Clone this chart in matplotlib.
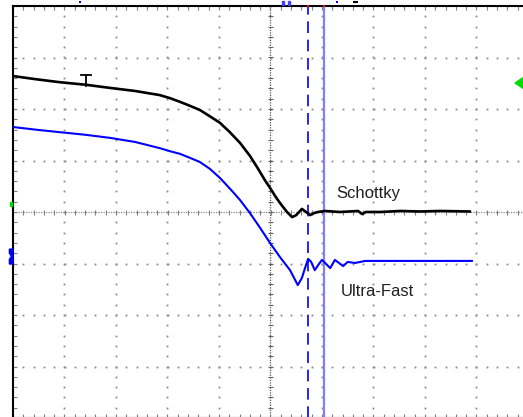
import matplotlib.pyplot as plt
import numpy as np

# screen is 10 x 8 divisions, values below are in divisions
schottky_t = [-5.0, -4.57, -4.09, -3.58, -3.12, -2.63, -2.15, -1.95, -1.76, -1.56,
              -1.37, -1.18, -0.98, -0.79, -0.59, -0.40, -0.26, -0.11, -0.01, 0.09,
              0.18, 0.32, 0.42, 0.50, 0.61, 0.69, 0.77, 0.85, 0.92, 1.06,
              1.35, 1.70, 1.78, 1.85, 2.13, 2.52, 2.90, 3.29, 3.87]
schottky_v = [2.64, 2.58, 2.52, 2.47, 2.41, 2.35, 2.27, 2.21, 2.14, 2.06,
              1.98, 1.86, 1.73, 1.55, 1.34, 1.09, 0.87, 0.62, 0.47, 0.31,
              0.18, 0.0, -0.10, -0.06, 0.06, 0.0, -0.06, -0.02, 0.0, 0.02,
              0.0, 0.02, -0.04, 0.0, 0.0, 0.02, 0.01, 0.02, 0.01]

ultrafast_t = [-5.0, -4.48, -4.09, -3.60, -3.12, -2.63, -2.15, -1.95, -1.76, -1.56,
               -1.37, -1.18, -0.98, -0.73, -0.59, -0.40, -0.20, -0.01, 0.18, 0.38,
               0.53, 0.61, 0.67, 0.73, 0.79, 0.86, 0.94, 1.00, 1.08, 1.16,
               1.25, 1.33, 1.41, 1.50, 1.64, 1.84, 3.91]
ultrafast_v = [1.65, 1.59, 1.55, 1.50, 1.44, 1.36, 1.24, 1.18, 1.13, 1.05,
               0.97, 0.84, 0.66, 0.39, 0.23, -0.02, -0.31, -0.60, -0.87, -1.13,
               -1.42, -1.28, -1.09, -0.91, -0.97, -1.13, -1.01, -0.93, -1.01, -1.09,
               -0.93, -0.99, -1.05, -0.97, -0.99, -0.95, -0.95]

cursor_a = 0.73
cursor_b = 1.03
trig_t, trig_v = -3.58, 2.45

fig = plt.figure(figsize=(5.23, 4.17), dpi=100)
ax = fig.add_axes([13 / 523, -1 / 417, 515 / 523, 412 / 417])
ax.set_xlim(-5, 5)
ax.set_ylim(-4, 4)
for s in ax.spines.values():
    s.set_color("black")
    s.set_linewidth(1.5)

ax.set_xticks(np.arange(-5, 5.01, 1))
ax.set_yticks(np.arange(-4, 4.01, 1))
ax.set_xticks(np.arange(-5, 5.01, 0.2), minor=True)
ax.set_yticks(np.arange(-4, 4.01, 0.2), minor=True)
ax.tick_params(which="both", direction="in", length=3, width=0.8, color="#808080",
               top=True, right=True, labelbottom=False, labelleft=False)

# dotted graticule
minor_x = np.arange(-5, 5.01, 0.2)
minor_y = np.arange(-4, 4.01, 0.2)
for gx in range(-4, 5):
    if gx == 0:
        continue
    ax.plot(np.full_like(minor_y, gx), minor_y, ls="none", marker="s",
            ms=1.3, mew=0, color="#8a8a8a", zorder=1)
for gy in range(-3, 4):
    if gy == 0:
        continue
    ax.plot(minor_x, np.full_like(minor_x, gy), ls="none", marker="s",
            ms=1.3, mew=0, color="#8a8a8a", zorder=1)

# centre axes with tick marks
ax.axhline(0, color="#8a8a8a", lw=0.9, ls=(0, (1, 1)), zorder=1)
ax.axvline(0, color="#555555", lw=0.9, ls=(0, (1, 1)), zorder=1)
ax.plot(minor_x, np.zeros_like(minor_x), ls="none", marker="|", ms=3.6,
        mew=0.8, color="#808080", zorder=1)
ax.plot(np.zeros_like(minor_y), minor_y, ls="none", marker="_", ms=3.6,
        mew=0.8, color="#606060", zorder=1)

# cursors
ax.axvline(cursor_a, color="#0000ff", lw=1.2, ls=(0, (7, 4)), zorder=3)
ax.axvline(cursor_b, color="#8080ff", lw=1.6, zorder=3)
ax.plot([cursor_a, cursor_b], [4, 4], ls="none", marker="s", ms=1.8, mew=0,
        color="red", clip_on=False, zorder=5)

# traces
ax.plot(ultrafast_t, ultrafast_v, color="#0000ff", lw=1.5, zorder=4)
ax.plot(schottky_t, schottky_v, color="black", lw=1.9, zorder=4)

# trigger marker
ax.plot([trig_t, trig_t], [trig_v, 2.66], color="black", lw=1.3, zorder=4)
ax.plot([trig_t - 0.1, trig_t + 0.1], [2.66, 2.66], color="black", lw=1.3, zorder=4)

ax.text(1.27, 0.27, "Schottky", fontsize=12, family="Liberation Sans",
        color="#202020", va="baseline", ha="left")
ax.text(1.37, -1.63, "Ultra-Fast", fontsize=12, family="Liberation Sans",
        color="#202020", va="baseline", ha="left")

# channel / trigger level markers on the edges
ax.fill([4.75, 4.92, 4.92], [2.505, 2.62, 2.39], color="#00dd00",
        clip_on=False, zorder=6)
ax.fill([-5.05, -5.01, -5.01, -5.05], [0.12, 0.12, 0.19, 0.19],
        color="#00dd00", clip_on=False, zorder=6)
ax.fill([-5.07, -5.0, -5.0, -5.07, -5.07, -5.03, -5.07],
        [-0.72, -0.72, -1.01, -1.01, -0.92, -0.86, -0.80],
        color="#0000ff", clip_on=False, zorder=6)

# small status marks above the screen
ax.fill([0.22, 0.26, 0.26, 0.22], [4.02, 4.02, 4.1, 4.1], color="#4040ff",
        clip_on=False, zorder=6)
ax.fill([0.34, 0.38, 0.38, 0.34], [4.02, 4.02, 4.1, 4.1], color="#4040ff",
        clip_on=False, zorder=6)
ax.plot([-3.7, 1.29], [4.07, 4.07], ls="none", marker="s", ms=1.5, mew=0,
        color="#0000ff", clip_on=False)
ax.plot([1.62, 1.68], [4.08, 4.08], color="black", lw=1.5, clip_on=False)

fig.savefig("out.png", dpi=100)
